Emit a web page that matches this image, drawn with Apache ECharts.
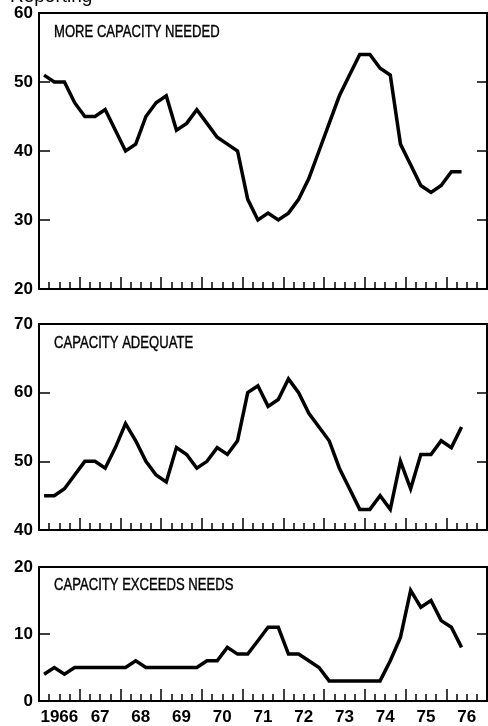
<!DOCTYPE html>
<html>
<head>
<meta charset="utf-8">
<script src="https://cdn.jsdelivr.net/npm/echarts@6/dist/echarts.min.js"></script>
<style>
html,body{margin:0;padding:0;background:#fff;}
#chart{width:488px;height:726px;}
</style>
</head>
<body>
<div id="chart"></div>
<script>
// ---- data ----
const yearLabels = ['1966','67','68','69','70','71','72','73','74','75','76'];
const quarterNames = ['Q1','Q2','Q3','Q4'];
const panelTitles = ['MORE CAPACITY NEEDED','CAPACITY ADEQUATE','CAPACITY EXCEEDS NEEDS'];
const moreNeeded = [51,50,50,47,45,45,46,43,40,41,45,47,48,43,44,46,44,42,41,40,33,30,31,30,31,33,36,40,44,48,51,54,54,52,51,41,38,35,34,35,37,37];
const adequate   = [45,45,46,48,50,50,49,52,55.5,53,50,48,47,52,51,49,50,52,51,53,60,61,58,59,62,60,57,55,53,49,46,43,43,45,43,50,46,51,51,53,52,55];
const exceeds    = [4,5,4,5,5,5,5,5,5,6,5,5,5,5,5,5,6,6,8,7,7,9,11,11,7,7,6,5,3,3,3,3,3,3,6,9.5,16.5,14,15,12,11,8];
const yRanges = [[20,60],[40,70],[0,20]];
const yStep = 10;

// ---- build ----
const quarterCats = [];
yearLabels.forEach(y => quarterNames.forEach(q => quarterCats.push(y + q)));
const seriesData = [moreNeeded, adequate, exceeds];

const grids = [
  {left:39, right:1, top:13, height:276},
  {left:39, right:1, top:324, height:206},
  {left:39, right:1, top:567, height:139}
].map(g => Object.assign(g, {show:true, borderColor:'#000', borderWidth:2, backgroundColor:'transparent'}));

const labelFont = {fontFamily:'Liberation Sans, Arial, sans-serif', fontWeight:'bold', fontSize:17, color:'#000'};
const xAxes = [], yAxes = [], series = [], graphics = [];
const titleCenters = [32, 343, 585];

for (let g = 0; g < 3; g++) {
  xAxes.push({
    type:'category', gridIndex:g, data:quarterCats, boundaryGap:true, position:'bottom',
    axisLine:{show:false}, axisLabel:{show:false},
    axisTick:{show:true, inside:true, length:7, interval:0, lineStyle:{color:'#000', width:1.5}},
    splitLine:{show:false}
  });
  xAxes.push({
    type:'category', gridIndex:g, data:yearLabels, boundaryGap:true, position:'bottom',
    axisLine:{show:false},
    axisLabel:Object.assign({show:g===2, interval:0, margin:8}, labelFont),
    axisTick:{show:true, inside:true, length:12, interval:0, lineStyle:{color:'#000', width:1.5}},
    splitLine:{show:false}
  });
  const [mn, mx] = yRanges[g];
  yAxes.push({
    type:'value', gridIndex:g, min:mn, max:mx, interval:yStep, position:'left',
    axisLine:{show:false},
    axisTick:{show:true, inside:true, length:11, lineStyle:{color:'#000', width:1.5}},
    axisLabel:Object.assign({margin:6}, labelFont),
    splitLine:{show:false}
  });
  yAxes.push({
    type:'value', gridIndex:g, min:mn, max:mx, interval:yStep, position:'right',
    axisLine:{show:false},
    axisTick:{show:true, inside:true, length:10, lineStyle:{color:'#000', width:1.5}},
    axisLabel:{show:false},
    splitLine:{show:false}
  });
  series.push({
    type:'line', xAxisIndex:2*g, yAxisIndex:2*g, data:seriesData[g],
    symbol:'none', smooth:false,
    lineStyle:{color:'#000', width:3.5, join:'miter'}
  });
  graphics.push({
    type:'text', x:54, y:titleCenters[g], scaleX:0.77, silent:true,
    style:{text:panelTitles[g], fontFamily:'Liberation Sans, Arial, sans-serif', fontSize:17, fill:'#000', stroke:'#000', lineWidth:0.4, align:'left', verticalAlign:'middle'}
  });
}
graphics.push({
  type:'text', x:10, y:-3, silent:true,
  style:{text:'Reporting—', fontFamily:'Liberation Sans, Arial, sans-serif', fontSize:19, fill:'#000', align:'left', verticalAlign:'middle'}
});

const chart = echarts.init(document.getElementById('chart'), null, {renderer:'canvas'});
chart.setOption({
  animation:false,
  backgroundColor:'#fff',
  grid:grids,
  xAxis:xAxes,
  yAxis:yAxes,
  series:series,
  graphic:graphics
});
</script>
</body>
</html>
